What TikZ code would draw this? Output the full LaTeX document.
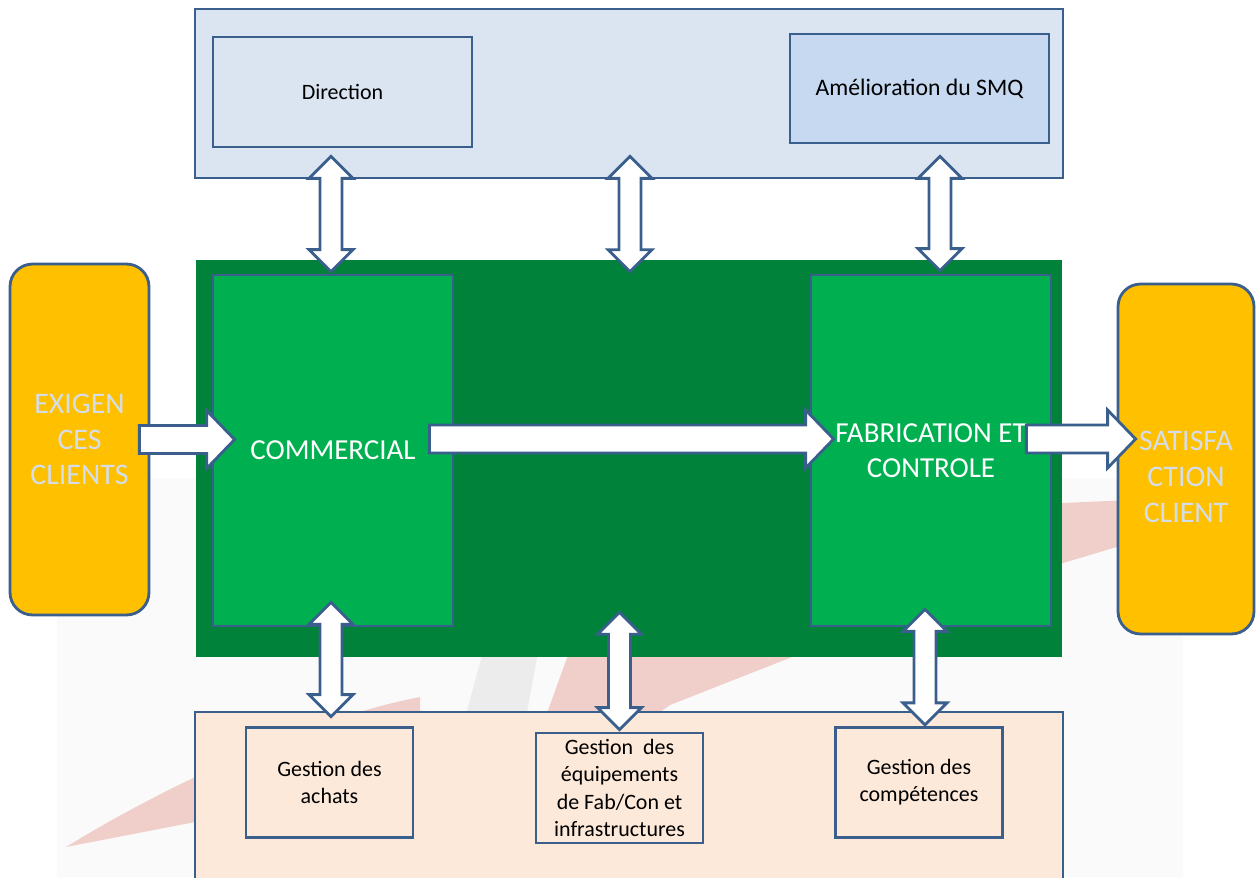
\documentclass[tikz,border=0pt]{standalone}
\usepackage{fontspec}
\setmainfont{Carlito}
\usetikzlibrary{calc}
\definecolor{smqEdge}{HTML}{3B5F8C}
\definecolor{smqTop}{HTML}{DBE5F1}
\definecolor{smqImprove}{HTML}{C6D9F1}
\definecolor{smqDark}{HTML}{00823B}
\definecolor{smqGreen}{HTML}{00B050}
\definecolor{smqGold}{HTML}{FFC000}
\definecolor{smqPeach}{HTML}{FDE9D9}
\definecolor{smqPale}{HTML}{D5DDE8}
\definecolor{wmPink}{HTML}{F0CFCB}
\definecolor{wmGrey}{HTML}{ECECEC}
\definecolor{wmBack}{HTML}{FAFAFA}

\newcommand\rightblock[2]{%
  \draw[blockarrow] let \p1=#1, \p2=#2 in
    (\x1,\y1+0.28cm) -- (\x2-0.56cm,\y1+0.28cm) -- (\x2-0.56cm,\y1+0.58cm)
    -- (\x2,\y1) -- (\x2-0.56cm,\y1-0.58cm) -- (\x2-0.56cm,\y1-0.28cm)
    -- (\x1,\y1-0.28cm) -- cycle;}
\newcommand\updownblock[2]{%
  \draw[blockarrow] let \p1=#1, \p2=#2 in
    (\x1,\y1) -- (\x1+0.44cm,\y1-0.44cm) -- (\x1+0.22cm,\y1-0.44cm)
    -- (\x1+0.22cm,\y2+0.44cm) -- (\x1+0.44cm,\y2+0.44cm) -- (\x1,\y2)
    -- (\x1-0.44cm,\y2+0.44cm) -- (\x1-0.22cm,\y2+0.44cm)
    -- (\x1-0.22cm,\y1-0.44cm) -- (\x1-0.44cm,\y1-0.44cm) -- cycle;}

\begin{document}
\begin{tikzpicture}[
  x=0.02cm, y=-0.02cm,
  box/.style={draw=smqEdge, rectangle, line width=1.6pt, inner sep=0pt, align=center},
  small/.style={font=\fontsize{12.5}{15.5}\selectfont},
  frame/.style={box, minimum width=17.36cm},
  unit/.style={box, small, minimum width=5.18cm},
  task/.style={box, small, fill=smqPeach, minimum width=3.34cm, minimum height=2.21cm},
  proc/.style={box, fill=smqGreen, text=white, minimum width=4.8cm, minimum height=7.02cm, font=\fontsize{16.5}{20}\selectfont},
  client/.style={box, rounded corners=0.45cm, fill=smqGold, text=smqPale, minimum height=7.02cm, font=\fontsize{17}{20.3}\selectfont},
  blockarrow/.style={draw=smqEdge, fill=white, line width=1.6pt}
]
\useasboundingbox (0,0) rectangle (1256,877);
\clip (0,0) rectangle (1256,877);
\fill[white] (0,0) rectangle (1256,877);

\fill[wmBack] (57,478) rectangle (1183,877);
\fill[wmPink] (66,847) .. controls (150,795) and (300,720) .. (420,697) -- (420,800)
  -- (195,822) -- cycle;
\fill[wmGrey] (489,630) -- (542,630) -- (522,740) -- (459,740) -- cycle;
\fill[wmPink] (588,600) -- (1063,503) -- (1130,500) -- (1130,543) -- (1063,563)
  -- (792,657) -- (670,705) -- (620,740) -- (530,760) -- cycle;

\node[frame, fill=smqTop, minimum height=3.38cm] (top) at (629,93.5) {};
\node[unit, fill=smqTop, minimum height=2.2cm] (dir) at (342.5,92) {Direction};
\node[unit, fill=smqImprove, minimum height=2.18cm, font=\fontsize{13.5}{16}\selectfont] (impr) at (919.5,88.5) {Amélioration du SMQ};

\node[fill=smqDark, inner sep=0pt, minimum width=17.32cm, minimum height=7.94cm] (core) at (629,458.5) {};
\node[proc] (comm) at (333,450.5) {COMMERCIAL};
\node[proc] (fab) at (931,450.5) {FABRICATION ET\\CONTROLE};

\node[client, minimum width=2.78cm] (req) at (79.5,439.5) {EXIGEN\\CES\\CLIENTS};
\node[client, minimum width=2.72cm, minimum height=7.0cm,
  label={[text=smqPale, align=center, font=\fontsize{17}{20.3}\selectfont, yshift=-0.36cm]center:{SATISFA\\CTION\\CLIENT}}]
  (sat) at (1186,459) {};

\node[frame, fill=smqPeach, minimum height=3.52cm] (bot) at (629,800) {};
\node[task] (buy) at (329.5,782.5) {Gestion des\\achats};
\node[task, minimum height=2.2cm] (equip) at (619.5,788) {Gestion\ \ des\\équipements\\de Fab/Con et\\infrastructures};
\node[task] (skill) at (919,782.5) {Gestion des\\compétences};

\rightblock{($(req.east)+(-11,0)$)}{($(comm.west)+(23,0)$)}
\rightblock{($(comm.east)+(-25,-11.5)$)}{($(fab.west)+(24,0)$)}
\rightblock{($(fab.east)+(-26,-11.5)$)}{($(sat.west)+(19,0)$)}

\updownblock{($(comm.north |- top.south)+(-2,-23)$)}{($(comm.north)+(0,-2)$)}
\updownblock{($(top.south)+(1,-23)$)}{($(top.south |- core.north)+(0,12)$)}
\updownblock{($(fab.north |- top.south)+(9,-23)$)}{($(fab.north)+(0,-3)$)}
\updownblock{($(comm.south)+(-2,-25)$)}{($(comm.south |- bot.north)+(0,6)$)}
\updownblock{($(equip.north |- core.south)+(0,-45)$)}{($(equip.north)+(0,-2)$)}
\updownblock{($(fab.south)+(-6,-18)$)}{($(skill.north)+(0,-1)$)}
\end{tikzpicture}
\end{document}
